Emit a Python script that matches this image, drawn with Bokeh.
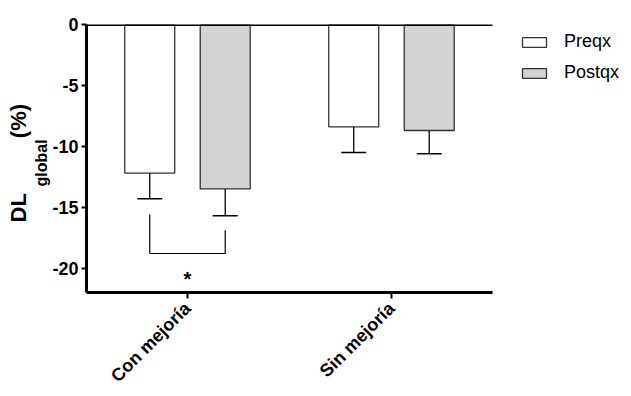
import math
from bokeh.plotting import figure
from bokeh.models import (ColumnDataSource, FixedTicker, Legend, LegendItem,
                          CustomJSTickFormatter, Title)
from bokeh.core.properties import value
from bokeh.embed import file_html
from bokeh.resources import INLINE

# ---- data ----
categories = ["Con mejoría", "Sin mejoría"]
series = ["Preqx", "Postqx"]
preqx_mean = [-12.2, -8.4]
preqx_err = [2.1, 2.1]
postqx_mean = [-13.5, -8.7]
postqx_err = [2.2, 1.9]
y_ticks = [0, -5, -10, -15, -20]
sig_bracket_y = -18.8
sig_left_top = -15.6
sig_right_top = -16.9
sig_star_y = -20.9

FONT = "Liberation Sans"
W, H = 631, 396
FL, FT, FB = 86, 24, 293
PX_PER_X = 204.0
X0, X1 = -0.495, 1.495                       # extent of the drawn axes
XMAX = X0 + (W - 1 - FL) / PX_PER_X          # frame reaches the right edge (room for legend)

p = figure(width=W, height=H, output_backend="svg", toolbar_location=None,
           x_range=(X0, XMAX), y_range=(-22, 0),
           min_border_left=FL, min_border_top=FT,
           min_border_right=1, min_border_bottom=H - FB)
p.outline_line_color = None
p.grid.grid_line_color = None
p.background_fill_color = "white"

off = 0.185
bw = 0.245
xs = list(range(len(categories)))
pre_x = [x - off for x in xs]
post_x = [x + off for x in xs]

src_pre = ColumnDataSource(dict(x=pre_x, top=[0] * len(xs), bottom=preqx_mean,
                                lo=[m - e for m, e in zip(preqx_mean, preqx_err)]))
src_post = ColumnDataSource(dict(x=post_x, top=[0] * len(xs), bottom=postqx_mean,
                                 lo=[m - e for m, e in zip(postqx_mean, postqx_err)]))

r_pre = p.vbar(x="x", top="top", bottom="bottom", width=bw, source=src_pre,
               fill_color="white", line_color="#333333", line_width=1.3)
r_post = p.vbar(x="x", top="top", bottom="bottom", width=bw, source=src_post,
                fill_color="#d3d3d3", line_color="#333333", line_width=1.3)

for src in (src_pre, src_post):
    p.segment(x0="x", y0="bottom", x1="x", y1="lo", source=src, line_color="black", line_width=1.3)
    p.scatter(x="x", y="lo", source=src, marker="dash", size=25, line_color="black", line_width=1.5)

# significance bracket
p.line(x=[pre_x[0], pre_x[0], post_x[0], post_x[0]],
       y=[sig_left_top, sig_bracket_y, sig_bracket_y, sig_right_top],
       line_color="black", line_width=1.2)
p.text(x=[xs[0]], y=[sig_star_y], text=["*"], text_align="center", text_baseline="middle",
       text_font=value(FONT), text_font_style="bold", text_font_size="20px", text_color="black")

# top zero line (limited to the axis extent)
p.segment(x0=[X0], y0=[0], x1=[X1], y1=[0], line_color="black", line_width=3)

# axes
p.yaxis.ticker = FixedTicker(ticks=y_ticks)
p.yaxis.formatter = CustomJSTickFormatter(code="return String(tick);")
p.yaxis.axis_line_width = 3
p.yaxis.major_tick_line_width = 2
p.yaxis.major_tick_out = 5
p.yaxis.major_tick_in = 0
p.yaxis.minor_tick_line_color = None
p.yaxis.major_label_text_font = FONT
p.yaxis.major_label_text_font_style = "bold"
p.yaxis.major_label_text_font_size = "18px"
p.yaxis.major_label_text_color = "black"
p.yaxis.major_label_standoff = 3

p.xaxis.bounds = (X0, X1)
p.xaxis.ticker = FixedTicker(ticks=xs)
p.xaxis.formatter = CustomJSTickFormatter(args=dict(labels=categories),
                                          code="return labels[Math.round(tick)];")
p.xaxis.axis_line_width = 3
p.xaxis.major_tick_line_width = 2
p.xaxis.major_tick_out = 6
p.xaxis.major_tick_in = 0
p.xaxis.minor_tick_line_color = None
p.xaxis.major_label_orientation = math.pi / 4
p.xaxis.major_label_text_font = FONT
p.xaxis.major_label_text_font_style = "bold"
p.xaxis.major_label_text_font_size = "18px"
p.xaxis.major_label_text_color = "black"
p.xaxis.major_label_standoff = 7

# y-axis label: DL_global (%) built from side titles
NB = "\u00a0"
t_sub = Title(text="global", align="left", offset=106, standoff=0,
              text_font=FONT, text_font_style="bold", text_font_size="16px",
              text_color="black")
t_main = Title(text="DL" + NB * 9 + "(%)", align="left", offset=70, standoff=0,
               text_font=FONT, text_font_style="bold", text_font_size="22px",
               text_color="black")
p.add_layout(t_sub, "left")
p.add_layout(t_main, "left")

legend = Legend(items=[LegendItem(label=series[0], renderers=[r_pre]),
                       LegendItem(label=series[1], renderers=[r_post])],
                location=(519 - FL, 209), margin=0, padding=0, spacing=10,
                glyph_width=30, glyph_height=12, label_standoff=15,
                label_text_font=FONT, label_text_font_size="18px",
                label_text_color="black",
                border_line_alpha=0, background_fill_alpha=0)
p.add_layout(legend, "center")

open("out.html", "w").write(file_html(p, INLINE))
